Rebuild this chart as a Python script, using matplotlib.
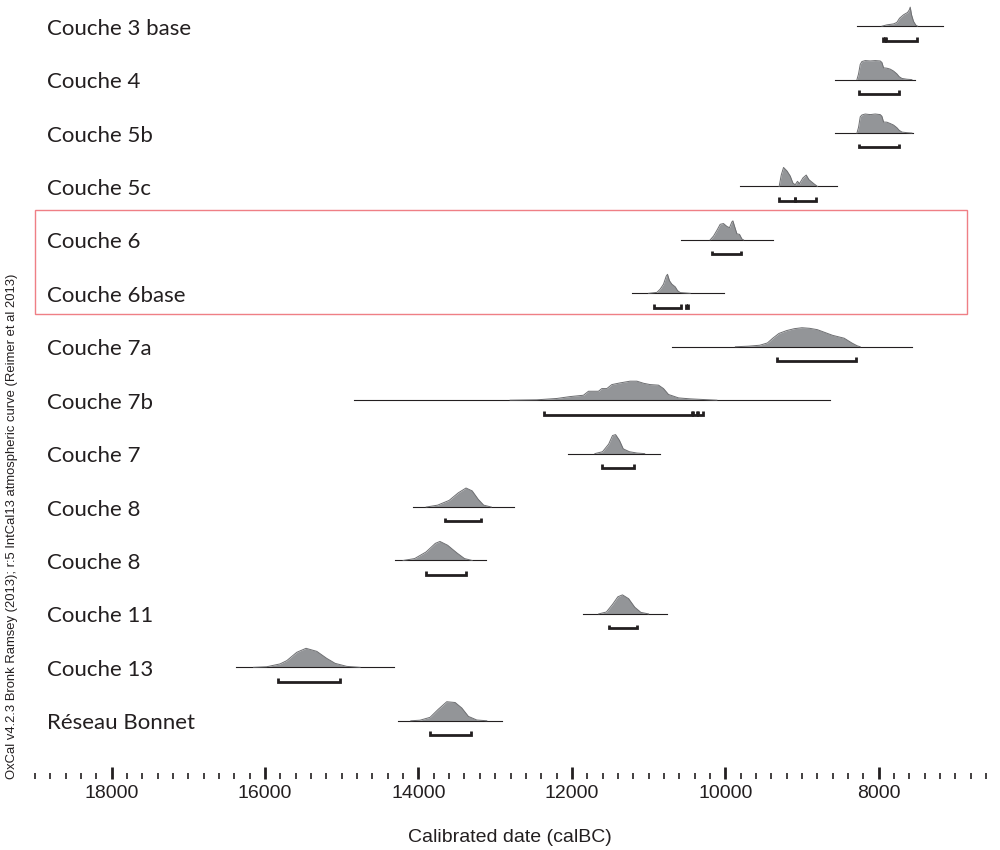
import numpy as np
import matplotlib.pyplot as plt
import matplotlib.transforms as mtransforms
from matplotlib.patches import Rectangle

labels = ['Couche 3 base', 'Couche 4', 'Couche 5b', 'Couche 5c', 'Couche 6',
          'Couche 6base', 'Couche 7a', 'Couche 7b', 'Couche 7', 'Couche 8',
          'Couche 8', 'Couche 11', 'Couche 13', 'Réseau Bonnet']

# probability outlines: calBC date, relative height (peak = 1)
c3base_t = [7957, 7892, 7805, 7762, 7727, 7675, 7623, 7601, 7588, 7571, 7545, 7514, 7492]
c3base_p = [0, 0.07, 0.12, 0.2, 0.42, 0.6, 0.72, 0.85, 1.0, 0.6, 0.25, 0.05, 0]
c4_t = [8283, 8262, 8240, 8218, 8175, 8110, 8044, 7979, 7957, 7936, 7892, 7849, 7806, 7762, 7731, 7695, 7631, 7566]
c4_p = [0, 0.3, 0.8, 0.95, 1.0, 0.98, 1.0, 0.98, 0.9, 0.62, 0.6, 0.55, 0.45, 0.3, 0.15, 0.06, 0.02, 0]
c5b_t = [8283, 8262, 8240, 8218, 8175, 8110, 8044, 7979, 7957, 7936, 7892, 7849, 7806, 7762, 7731, 7695, 7631, 7566]
c5b_p = [0, 0.3, 0.85, 0.95, 1.0, 0.97, 1.0, 0.97, 0.88, 0.58, 0.57, 0.5, 0.42, 0.28, 0.14, 0.05, 0.02, 0]
c5c_t = [9297, 9270, 9240, 9196, 9153, 9118, 9088, 9058, 9032, 8987, 8944, 8909, 8883, 8840, 8797]
c5c_p = [0, 0.6, 1.0, 0.82, 0.55, 0.18, 0.09, 0.27, 0.15, 0.45, 0.6, 0.36, 0.27, 0.13, 0]
c6_t = [10197, 10153, 10109, 10066, 10023, 9979, 9945, 9913, 9900, 9883, 9848, 9814, 9783, 9762]
c6_p = [0, 0.2, 0.5, 0.82, 0.86, 0.71, 0.64, 0.95, 1.0, 0.77, 0.32, 0.29, 0.05, 0]
c6base_t = [11000, 10891, 10848, 10805, 10770, 10753, 10727, 10696, 10652, 10622, 10587, 10457]
c6base_p = [0, 0.05, 0.22, 0.48, 0.9, 1.0, 0.66, 0.48, 0.34, 0.14, 0.04, 0]
c7a_t = [9868, 9700, 9550, 9450, 9380, 9300, 9200, 9100, 9000, 8900, 8800, 8700, 8600, 8450, 8350, 8280, 8240]
c7a_p = [0, 0.03, 0.08, 0.2, 0.45, 0.7, 0.85, 0.95, 1.0, 0.97, 0.9, 0.75, 0.6, 0.45, 0.2, 0.05, 0]
c7b_t = [12805, 12457, 12196, 12022, 11849, 11783, 11653, 11609, 11544, 11479, 11370, 11240,
         11152, 11066, 10979, 10870, 10805, 10740, 10609, 10457, 10109]
c7b_p = [0, 0.02, 0.09, 0.19, 0.26, 0.47, 0.47, 0.61, 0.61, 0.82, 0.91, 1.0,
         1.0, 0.89, 0.82, 0.79, 0.61, 0.3, 0.12, 0.07, 0]
c7_t = [11700, 11600, 11520, 11470, 11430, 11380, 11330, 11250, 11150, 11050]
c7_p = [0, 0.1, 0.5, 0.95, 1.0, 0.7, 0.25, 0.1, 0.03, 0]
c8a_t = [13900, 13750, 13600, 13480, 13380, 13300, 13220, 13150, 13050]
c8a_p = [0, 0.1, 0.35, 0.75, 1.0, 0.85, 0.4, 0.1, 0]
c8b_t = [14200, 14050, 13900, 13780, 13720, 13620, 13500, 13400, 13300]
c8b_p = [0, 0.1, 0.45, 0.9, 1.0, 0.8, 0.4, 0.1, 0]
c11_t = [11650, 11550, 11470, 11400, 11340, 11260, 11180, 11100, 11000]
c11_p = [0, 0.1, 0.5, 0.9, 1.0, 0.8, 0.35, 0.08, 0]
c13_t = [16150, 15979, 15805, 15718, 15587, 15466, 15326, 15196, 15087, 14935, 14761]
c13_p = [0, 0.03, 0.18, 0.35, 0.79, 1.0, 0.84, 0.47, 0.21, 0.05, 0]
bonnet_t = [14100, 13979, 13849, 13740, 13631, 13522, 13435, 13349, 13240, 13109]
bonnet_p = [0, 0.03, 0.18, 0.61, 1.0, 0.96, 0.67, 0.23, 0.04, 0]

dens_t = [c3base_t, c4_t, c5b_t, c5c_t, c6_t, c6base_t, c7a_t, c7b_t, c7_t, c8a_t, c8b_t, c11_t, c13_t, bonnet_t]
dens_p = [c3base_p, c4_p, c5b_p, c5c_p, c6_p, c6base_p, c7a_p, c7b_p, c7_p, c8a_p, c8b_p, c11_p, c13_p, bonnet_p]

# extent of the base line of each distribution
line_from = [8283, 8566, 8566, 9814, 10579, 11218, 10692, 14840, 12048, 14070, 14305, 11852, 16378, 14262]
line_to = [7161, 7522, 7553, 8544, 9378, 10014, 7562, 8631, 10848, 12753, 13118, 10757, 14317, 12913]

# 95.4% ranges
ranges = [[(7940, 7915), (7905, 7500)],
          [(8254, 7735)],
          [(8262, 7735)],
          [(9297, 9088), (9088, 8814)],
          [(10174, 9796)],
          [(10935, 10579), (10506, 10480)],
          [(9322, 8292)],
          [(12360, 10435), (10415, 10370), (10350, 10290)],
          [(11604, 11187)],
          [(13651, 13182)],
          [(13900, 13378)],
          [(11518, 11153)],
          [(15827, 15022)],
          [(13849, 13314)]]

note = 'OxCal v4.2.3 Bronk Ramsey (2013); r:5 IntCal13 atmospheric curve (Reimer et al 2013)'

fig = plt.figure(figsize=(10, 8.5), dpi=100)
ax = fig.add_axes([0.035, 1 - 779 / 850, 0.951, 779 / 850])
ax.set_xlim(19000, 6600)
ax.set_ylim(14.09, -0.49)

h = 0.356
for i in range(len(labels)):
    ax.plot([line_from[i], line_to[i]], [i, i], color='#231f20', lw=0.8)
    t = np.array(dens_t[i])
    p = np.array(dens_p[i])
    ax.fill_between(t, i, i - h * p, color='#939598', lw=0)
    ax.plot(t, i - h * p, color='#6d6e71', lw=0.7)
    yb = i + 0.27
    for a, b in ranges[i]:
        ax.plot([a, a, b, b], [yb - 0.07, yb, yb, yb - 0.07], color='#231f20', lw=2,
                solid_capstyle='butt', solid_joinstyle='miter')
    ax.text(0.0126, i + 0.16, labels[i], transform=ax.get_yaxis_transform(),
            fontsize=16, family='Lato', va='baseline', color='#231f20')

# group box around Couche 6 / 6base
trans = mtransforms.blended_transform_factory(ax.transAxes, ax.transData)
ax.add_patch(Rectangle((0, 3.44), 0.98, 1.95, transform=trans, fill=False,
                       edgecolor='#ef7f85', lw=1, clip_on=False))

for s in ax.spines.values():
    s.set_visible(False)
ax.set_yticks([])
ax.set_xticks(np.arange(8000, 18001, 2000))
ax.set_xticks(np.arange(6600, 19001, 200), minor=True)
ax.tick_params(axis='x', which='major', direction='in', length=8.6, width=2,
               pad=4, labelsize=14, colors='#231f20')
ax.tick_params(axis='x', which='minor', direction='in', length=4.3, width=1.2,
               colors='#231f20')
for lab in ax.get_xticklabels():
    lab.set_family('Liberation Sans')

fig.text(0.51, 1 - 838 / 850, 'Calibrated date (calBC)', fontsize=14,
         family='Liberation Sans', ha='center', va='center', color='#231f20')
fig.text(0.012, 1 - 526 / 850, note, rotation=90, fontsize=9.4,
         family='Liberation Sans', ha='center', va='center', color='#231f20')

fig.savefig('out.png', dpi=100)
